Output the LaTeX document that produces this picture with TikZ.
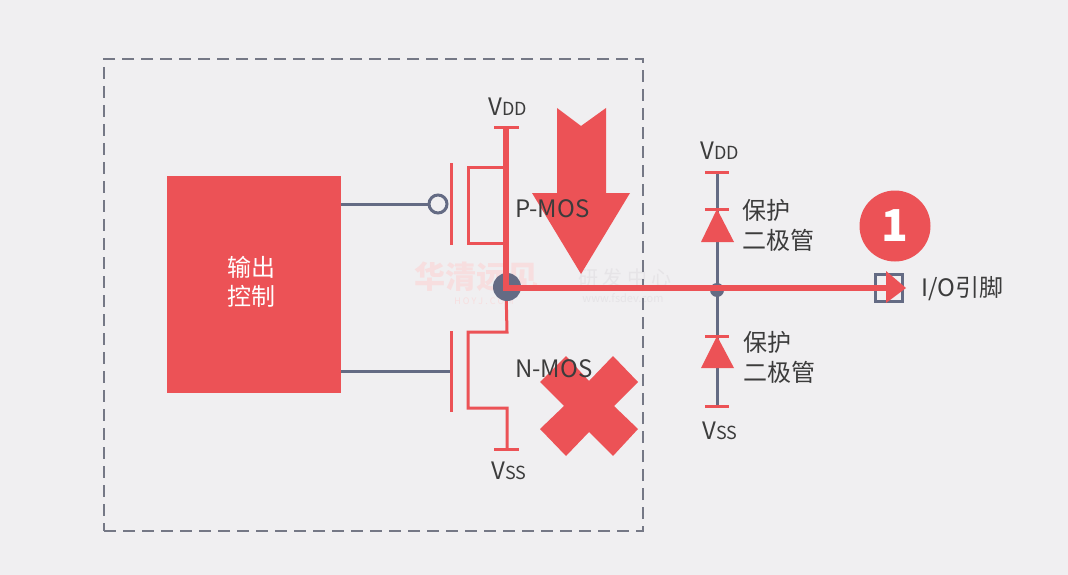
\documentclass[tikz,border=0pt]{standalone}
\usepackage{fontspec}
\setmainfont{Noto Sans CJK SC}
\definecolor{bgc}{HTML}{F0EFF1}
\definecolor{redc}{HTML}{EC5256}
\definecolor{grayc}{HTML}{646B84}
\definecolor{framec}{HTML}{757886}
\definecolor{txtc}{HTML}{3C3C3C}
\definecolor{markc}{HTML}{F7DEDF}
\definecolor{markg}{HTML}{E6E4E7}
\newcommand{\vddlbl}{V{\fontsize{18}{18}\selectfont DD}}
\newcommand{\vsslbl}{V{\fontsize{18}{18}\selectfont SS}}
\tikzset{
  lbl/.style={inner sep=0pt,text=txtc,font=\fontsize{24}{24}\selectfont},
  wire/.style={draw=grayc,line width=3pt},
  rwire/.style={draw=redc,line width=3pt}
}
\begin{document}
\begin{tikzpicture}[x=1pt,y=-1pt]
\useasboundingbox (0,0) rectangle (1068,575);
\fill[bgc] (0,0) rectangle (1068,575);

% watermark
\node[inner sep=0pt,text=markc,font=\bfseries\fontsize{31}{31}\selectfont](w1) at (476,277){华清远见};
\node[inner sep=0pt,text=markc,font=\fontsize{9}{9}\selectfont](w2) at (484,301){H O Y J . C O M};
\node[inner sep=0pt,text=markg,font=\fontsize{20}{20}\selectfont](w3) at (625,278){研 发 中 心};
\node[inner sep=0pt,text=markg,font=\fontsize{11}{11}\selectfont](w4) at (623,298){www.fsdev.com};

% outer frame
\node[draw=framec,line width=2pt,dash pattern=on 12pt off 7pt,inner sep=0pt,minimum width=539pt,minimum height=472pt](frame) at (373.5,295){};

% control block
\node[fill=redc,inner sep=0pt,minimum width=174pt,minimum height=217pt](ctrl) at (254,284.5){};
\node[inner sep=0pt,align=center,text=white,font=\fontsize{24}{29}\selectfont](ctrltxt) at (251,282){输出\\控制};

% fixed points
\coordinate(vd) at (506,128);
\coordinate(out) at (506,288);
\coordinate(pa) at (506,167);
\coordinate(pb) at (506,243);
\coordinate(pc) at (468,167);
\coordinate(pd) at (468,243);
\coordinate(na) at (507,332);
\coordinate(nb) at (468,332);
\coordinate(nc) at (468,408);
\coordinate(nd) at (507,408);
\coordinate(vs) at (507,449);
\coordinate(gn) at (451,371);
\coordinate(d1) at (717,172);
\coordinate(d2) at (717,209);
\coordinate(d3) at (717,336);
\coordinate(d4) at (717,406);

% gate wires
\node[draw=grayc,line width=3pt,circle,inner sep=0pt,minimum size=18pt,fill=bgc](bub) at (438,204){};
\draw[wire] (ctrl.east |- bub) -- (bub);
\draw[wire] (ctrl.east |- gn) -- (gn);

% p and n transistors
\draw[rwire] (451,163) -- (451,245);
\draw[rwire] (451,331) -- (451,412);
\draw[rwire] (pa) -- (pc) -- (pd) -- (pb);
\draw[rwire] (out) -- (na) -- (nb) -- (nc) -- (nd) -- (vs);
\draw[rwire] (494,128) -- (519,128);
\draw[rwire] (494,449) -- (519,449);

% diode column
\draw[wire] (d1) -- (d4);
\node[circle,fill=grayc,inner sep=0pt,minimum size=14pt](dot2) at (717,290){};
\draw[rwire] (705,172) -- (729,172);
\draw[rwire] (705,209) -- (729,209);
\draw[rwire] (705,336) -- (729,336);
\draw[rwire] (705,406) -- (729,406);
\fill[redc] (d2) -- (734,242) -- (701,242) -- cycle;
\fill[redc] (d3) -- (734,368) -- (701,368) -- cycle;

% pin
\node[draw=grayc,line width=3pt,inner sep=0pt,minimum size=27pt](pin) at (889,288){};

% current path
\node[circle,fill=grayc,inner sep=0pt,minimum size=28pt](dot1) at (507,287){};
\draw[draw=redc,line width=6pt,line join=miter] (vd) -- (out) -- (pin.center);
\fill[redc] (906,288) -- (886,271) -- (886,303) -- cycle;

% big arrow and cross
\fill[redc] (557,108) -- (581,126) -- (606,108) -- (606,193) -- (630,193) -- (581,274) -- (532,193) -- (557,193) -- cycle;
\fill[redc] (566,356) -- (589,381) -- (613,356) -- (638,382) -- (614,406) -- (638,429) -- (613,456) -- (589,432) -- (566,456) -- (540,429) -- (564,406) -- (540,382) -- cycle;

% badge
\node[circle,fill=redc,inner sep=0pt,minimum size=71pt](badge) at (895,226){};
\node[inner sep=0pt,text=white,font=\bfseries\fontsize{44}{44}\selectfont](num) at (895,226){1};

% labels
\node[lbl](l1) at (508,107){\vddlbl};
\node[lbl](l2) at (509,471){\vsslbl};
\node[lbl](l3) at (720,151){\vddlbl};
\node[lbl](l4) at (720,431){\vsslbl};
\node[lbl,anchor=west](pm) at (515,209){P-MOS};
\node[lbl,anchor=west](nm) at (515,369){N-MOS};
\node[lbl,anchor=west](t1) at (742,210){保护};
\node[lbl,anchor=west](t2) at (742,240){二极管};
\node[lbl,anchor=west](t3) at (743,342){保护};
\node[lbl,anchor=west](t4) at (743,372){二极管};
\node[lbl,anchor=west](io) at (921,289){I/O引脚};
\end{tikzpicture}
\end{document}
